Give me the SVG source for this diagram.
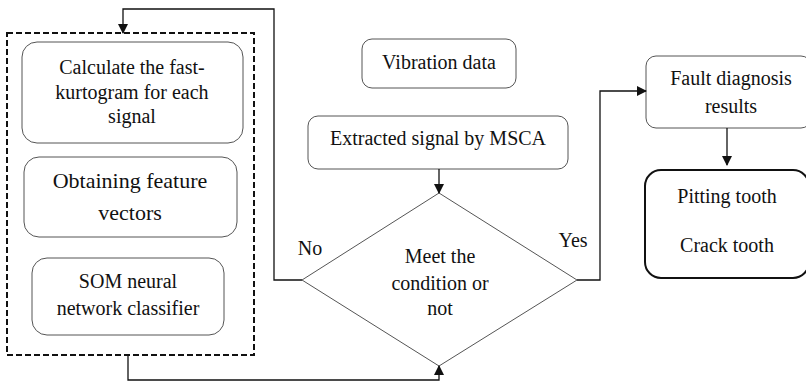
<svg xmlns="http://www.w3.org/2000/svg" width="806" height="391" viewBox="0 0 806 391">
<style>
.t{font-size:20px;fill:#111}
.big{font-size:22px}
.box{fill:#fff;stroke:#555;stroke-width:1}
.thick{fill:#fff;stroke:#111;stroke-width:2}
.dash{fill:none;stroke:#111;stroke-width:2;stroke-dasharray:6,3}
.conn{fill:none;stroke:#111;stroke-width:1.3}
</style>
<defs>
<marker id="ah" markerWidth="10" markerHeight="10" refX="9" refY="5" orient="auto" markerUnits="userSpaceOnUse">
<path d="M0,0 L10,5 L0,10 z" fill="#111"/>
</marker>
</defs>
<rect width="806" height="391" fill="#fff"/>
<g id="loop-group">
<rect class="dash" x="7" y="33" width="247" height="322"/>
</g>
<g id="n-kurtogram">
<rect class="box" x="22" y="42" width="221" height="101" rx="15"/>
<text class="t" font-family="Liberation Serif" text-anchor="middle" x="132" y="74">Calculate the fast-</text>
<text class="t" font-family="Liberation Serif" text-anchor="middle" x="132" y="99">kurtogram for each</text>
<text class="t" font-family="Liberation Serif" text-anchor="middle" x="132" y="123">signal</text>
</g>
<g id="n-features">
<rect class="box" x="24" y="157" width="213" height="80" rx="15"/>
<text class="t big" font-family="Liberation Serif" text-anchor="middle" x="130" y="188">Obtaining feature</text>
<text class="t big" font-family="Liberation Serif" text-anchor="middle" x="130" y="220">vectors</text>
</g>
<g id="n-som">
<rect class="box" x="32" y="258" width="192" height="77" rx="15"/>
<text class="t" font-family="Liberation Serif" text-anchor="middle" x="128" y="288">SOM neural</text>
<text class="t" font-family="Liberation Serif" text-anchor="middle" x="128" y="315">network classifier</text>
</g>
<g id="n-vibration">
<rect class="box" x="362" y="39" width="154" height="49" rx="10"/>
<text class="t" font-family="Liberation Serif" text-anchor="middle" x="439" y="69">Vibration data</text>
</g>
<g id="n-extracted">
<rect class="box" x="308" y="116" width="260" height="53" rx="10"/>
<text class="t" font-family="Liberation Serif" text-anchor="middle" x="438" y="145">Extracted signal by MSCA</text>
</g>
<g id="n-decision">
<polygon class="box" points="439,193 577,280 439,366 302,280"/>
<text class="t" font-family="Liberation Serif" text-anchor="middle" x="440" y="263">Meet the</text>
<text class="t" font-family="Liberation Serif" text-anchor="middle" x="440" y="290">condition or</text>
<text class="t" font-family="Liberation Serif" text-anchor="middle" x="440" y="315">not</text>
</g>
<g id="n-fault">
<rect class="box" x="646" y="56" width="165" height="72" rx="10"/>
<text class="t" font-family="Liberation Serif" text-anchor="middle" x="731" y="85">Fault diagnosis</text>
<text class="t" font-family="Liberation Serif" text-anchor="middle" x="731" y="113">results</text>
</g>
<g id="n-result">
<rect class="thick" x="645" y="170" width="164" height="108" rx="16"/>
<text class="t" font-family="Liberation Serif" text-anchor="middle" x="727" y="203">Pitting tooth</text>
<text class="t" font-family="Liberation Serif" text-anchor="middle" x="727" y="252">Crack tooth</text>
</g>
<g id="connectors">
<line class="conn" x1="439" y1="169" x2="439" y2="193" marker-end="url(#ah)"/>
<polyline class="conn" points="302,280 274,280 274,9 123,9 123,33" marker-end="url(#ah)"/>
<polyline class="conn" points="128,355 128,380 439,380 439,366" marker-end="url(#ah)"/>
<polyline class="conn" points="577,280 600,280 600,91 646,91" marker-end="url(#ah)"/>
<line class="conn" x1="727" y1="128" x2="727" y2="165" marker-end="url(#ah)"/>
<text class="t" font-family="Liberation Serif" text-anchor="middle" x="310" y="255">No</text>
<text class="t" font-family="Liberation Serif" text-anchor="middle" x="573" y="247">Yes</text>
</g>
</svg>
